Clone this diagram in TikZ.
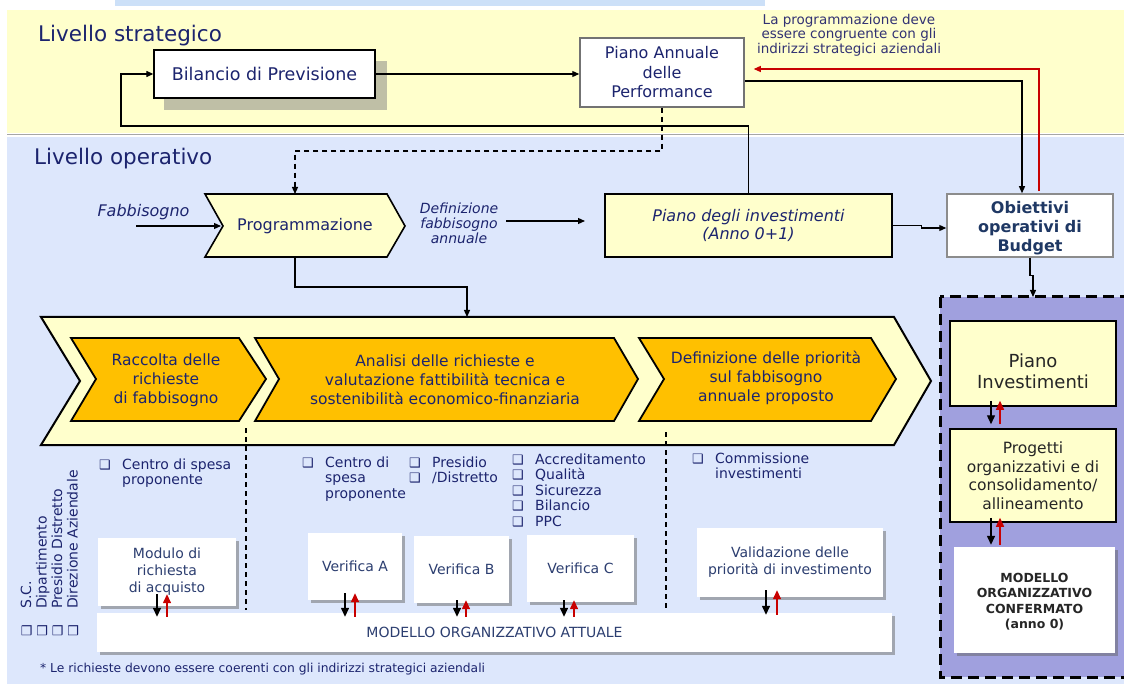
\documentclass[tikz,border=0pt]{standalone}
\usepackage{fontspec}
\setmainfont{DejaVu Sans}
\usetikzlibrary{arrows.meta,shadows,calc}
\definecolor{navy}{RGB}{28,36,110}
\definecolor{navyb}{RGB}{44,62,112}
\definecolor{bandY}{RGB}{255,255,204}
\definecolor{bandB}{RGB}{221,231,252}
\definecolor{topB}{RGB}{204,224,248}
\definecolor{lyel}{RGB}{255,255,204}
\definecolor{orng}{RGB}{255,192,0}
\definecolor{purp}{RGB}{160,160,222}
\definecolor{redA}{RGB}{200,0,0}
\definecolor{shad}{RGB}{191,191,166}
\definecolor{obj}{RGB}{31,56,100}
\definecolor{annot}{RGB}{50,50,115}
\newcommand\fs[2]{\fontsize{#1}{#2}\selectfont}
\newcommand\bq{\makebox[23pt][l]{\fs{13}{13}❑}}
\newcommand\bqv{\makebox[28pt][l]{\fs{13}{13}❑}}
\newcommand\pairs[6]{%
  \draw[barr] ($(#1.south)+(#3,-#5)$) -- ($(#1.south |- #2.north)+(#3,#6)$);
  \draw[rarr] ($(#1.south |- #2.north)+(#4,#6)$) -- ($(#1.south)+(#4,-#5)$);}
\tikzset{
  conn/.style={line width=1.2pt, -{Triangle[length=7pt,width=6pt]}},
  redconn/.style={line width=1.2pt, draw=redA, -{Triangle[length=7pt,width=6pt]}},
  barr/.style={line width=1.4pt, -{Triangle[length=9pt,width=8pt]}},
  rarr/.style={line width=1.4pt, draw=redA, fill=redA, -{Triangle[length=9pt,width=8pt]}},
  wbox/.style={fill=white, inner sep=0pt, align=center, text=navyb,
    drop shadow={shadow xshift=2.5pt, shadow yshift=-2.5pt, fill=black!60, opacity=0.5}},
  ybox/.style={fill=lyel, draw=black, line width=1.5pt, inner sep=0pt, align=center},
  chev/.style={draw=black, line join=miter},
  lbl/.style={text=navy, inner sep=0pt, align=center},
  lst/.style={text=navy, inner sep=0pt, anchor=base west, font=\fs{14}{15.5}},
  dsh/.style={line width=1.2pt, dash pattern=on 5pt off 4pt},
}
\begin{document}
\begin{tikzpicture}[x=1pt,y=-1pt]
\useasboundingbox (0,0) rectangle (1124,684);
\fill[white] (0,0) rectangle (1124,684);
\fill[topB] (115,0) rectangle (765,6);
\fill[bandY] (7,10) rectangle (1124,133);
\draw[black!35, line width=1.5pt] (7,134.5) -- (1124,134.5);
\fill[bandB] (7,137) rectangle (1124,684);

% level titles
\node[text=navy, anchor=base west, inner sep=0pt, font=\fs{21.5}{24}] (ls) at (38,42) {Livello strategico};
\node[text=navy, anchor=base west, inner sep=0pt, font=\fs{21.5}{24}] (lo) at (34,165) {Livello operativo};

% strategic boxes
\fill[shad] (164,61) rectangle (387,110);
\node[draw=black, line width=1.3pt, fill=white, minimum width=221pt, minimum height=48pt, inner sep=0pt, text=navy, font=\fs{17.5}{20}] (bil) at (264.5,74) {Bilancio di Previsione};
\node[draw=black!55, line width=1.5pt, fill=white, minimum width=164pt, minimum height=69pt, lbl, font=\fs{16}{19.5}] (pa) at (662,72.5) {Piano Annuale\\delle\\Performance};
\node[text=annot, align=center, inner sep=0pt, font=\fs{13.5}{14.5}] (ann) at (849,35) {La programmazione deve\\essere congruente con gli\\indirizzi strategici aziendali};

% Programmazione chevron
\draw[chev, fill=lyel, line width=1.6pt] (205,194) -- (387,194) -- (405,226) -- (387,257) -- (205,257) -- (223,226) -- cycle;
\node[lbl, font=\fs{16}{19}] (prog) at (305,226) {Programmazione};
\coordinate (progN) at (295,194);
\coordinate (progS) at (295,257);
\coordinate (progW) at (221,226);

\node[lbl, font=\itshape\fs{16}{19}] (fab) at (143.5,212) {Fabbisogno};
\coordinate (fabIn) at (136,226);
\node[lbl, font=\itshape\fs{14}{15}] (def) at (459,223) {Definizione\\fabbisogno\\annuale};
\coordinate (defEnd) at (585,221);

\node[ybox, line width=1.3pt, minimum width=287pt, minimum height=63pt, text=navy, font=\itshape\fs{16}{18}] (pi) at (748.5,225.5) {Piano degli investimenti\\(Anno 0+1)};
\node[draw=black!45, line width=1.5pt, fill=white, minimum width=166pt, minimum height=63pt, inner sep=0pt, align=center, text=obj, font=\bfseries\fs{16}{19}] (ob) at (1030,225.5) {\rule{0pt}{18pt}Obiettivi\\operativi di\\Budget};

% purple box
\draw[fill=purp, line width=3pt, dash pattern=on 11pt off 6pt] (940,297) rectangle (1140,677);
\coordinate (pbTop) at (1033,297);

% connectors upper part
\draw[conn] (bil.east) -- (bil.east -| pa.west);
\coordinate (loopA) at (121,126);
\draw[conn] (pi.north) |- (loopA) |- (bil.west);
\coordinate (bk) at (1022,81);
\draw[conn] (pa.east |- bk) -| ($(ob.north)+(-8,0)$);
\coordinate (rd) at (1039,69);
\draw[redconn] ($(ob.north)+(9,-2)$) |- ($(pa.east |- rd)+(9,0)$);
\coordinate (dshc) at (295,151);
\draw[conn, dash pattern=on 5pt off 4pt] (pa.south) |- (dshc) -- (progN);
\draw[conn] (fabIn) -- (progW);
\draw[conn] ($(def.east |- defEnd)+(8,0)$) -- (defEnd);
\draw[conn] (pi.east) -- ++(29,0) |- ($(ob.west)+(0,2.5)$);
\draw[conn] (ob.south) -- ++(0,18) -| (pbTop);
\coordinate (bigTop) at (467,317);
\draw[conn] (progS) |- ($(bigTop)+(0,-30)$) -- (bigTop);

% big chevron
\draw[chev, fill=lyel, line width=2pt] (41,317) -- (894,317) -- (931,381) -- (894,445) -- (41,445) -- (80,381) -- cycle;
\draw[chev, fill=orng, line width=1.8pt] (71,338) -- (239,338) -- (266,379) -- (239,421) -- (71,421) -- (96,379) -- cycle;
\draw[chev, fill=orng, line width=1.8pt] (255,338) -- (614,338) -- (638,379) -- (614,421) -- (255,421) -- (279,379) -- cycle;
\draw[chev, fill=orng, line width=1.8pt] (639,338) -- (871,338) -- (896,379) -- (871,421) -- (639,421) -- (664,379) -- cycle;
\node[lbl, font=\fs{15.5}{19}] (rac) at (166,380) {Raccolta delle\\richieste\\di fabbisogno};
\node[lbl, font=\fs{15.5}{19}] (ana) at (445,380) {Analisi delle richieste e\\valutazione fattibilità tecnica e\\sostenibilità economico-finanziaria};
\node[lbl, font=\fs{15.5}{19}] (dfp) at (766,378) {Definizione delle priorità\\sul fabbisogno\\annuale proposto};

% dashed separators
\draw[dsh] (246,428) -- (246,610);
\draw[dsh] (666,432) -- (666,610);

% lists
\node[lst] (l1) at (99,469) {\begin{tabular}[t]{@{}l@{}l@{}}\bq&Centro di spesa\\&proponente\end{tabular}};
\node[lst] (l2) at (302,467) {\begin{tabular}[t]{@{}l@{}l@{}}\bq&Centro di\\&spesa\\&proponente\end{tabular}};
\node[lst] (l3) at (409,467) {\begin{tabular}[t]{@{}l@{}l@{}}\bq&Presidio\\\bq&/Distretto\end{tabular}};
\node[lst] (l4) at (512,464) {\begin{tabular}[t]{@{}l@{}l@{}}\bq&Accreditamento\\\bq&Qualità\\\bq&Sicurezza\\\bq&Bilancio\\\bq&PPC\end{tabular}};
\node[lst] (l5) at (692,463) {\begin{tabular}[t]{@{}l@{}l@{}}\bq&Commissione\\&investimenti\end{tabular}};

\node[rotate=90, anchor=north west, inner sep=0pt, text=navy, font=\fs{14}{15.5}] (vl) at (20,637) {\begin{tabular}{@{}l@{}l@{}}\bqv&S.C.\\\bqv&Dipartimento\\\bqv&Presidio Distretto\\\bqv&Direzione Aziendale\end{tabular}};

% white boxes
\node[wbox, minimum width=138pt, minimum height=68pt, font=\fs{14}{17}] (mod) at (167,572) {Modulo di\\richiesta\\di acquisto};
\node[wbox, minimum width=94pt, minimum height=67pt, font=\fs{14}{17}] (va) at (355,566.5) {Verifica A};
\node[wbox, minimum width=95pt, minimum height=67pt, font=\fs{14}{17}] (vb) at (461.5,569.5) {Verifica B};
\node[wbox, minimum width=107pt, minimum height=67pt, font=\fs{14}{17}] (vc) at (580.5,568.5) {Verifica C};
\node[wbox, minimum width=186pt, minimum height=69pt, font=\fs{14}{17}] (val) at (790,562.5) {Validazione delle\\priorità di investimento};
\node[wbox, minimum width=795pt, minimum height=39pt, font=\fs{14}{17}] (ma) at (494.5,632.5) {MODELLO ORGANIZZATIVO ATTUALE};

% right column
\node[ybox, minimum width=166pt, minimum height=85pt, text=black!85, font=\fs{18}{21}] (pinv) at (1033,363.5) {\rule{0pt}{29pt}Piano\\Investimenti};
\node[ybox, minimum width=166pt, minimum height=93pt, text=black!85, font=\fs{15.5}{18.5}] (prg) at (1033,475.5) {Progetti\\organizzativi e di\\consolidamento/\\allineamento};
\node[wbox, minimum width=161pt, minimum height=106pt, text=black!85, font=\bfseries\fs{12.5}{15.5}] (mc) at (1034.5,600) {\rule{0pt}{13pt}MODELLO\\ORGANIZZATIVO\\CONFERMATO\\(anno 0)};

% up/down arrow pairs
\pairs{mod}{ma}{-10}{0}{12}{4}
\pairs{va}{ma}{-10}{0}{7}{4}
\pairs{vb}{ma}{-4.5}{4.5}{3}{4}
\pairs{vc}{ma}{-16.5}{-6.5}{2}{4}
\pairs{val}{ma}{-24}{-13}{7}{2}
\pairs{pinv}{prg}{-42}{-33}{6}{-4}
\pairs{prg}{mc}{-42}{-33}{5}{-2}

\node[anchor=base west, inner sep=0pt, text=navy, font=\fs{12.3}{14}] (fn) at (40,672) {* Le richieste devono essere coerenti con gli indirizzi strategici aziendali};
\end{tikzpicture}
\end{document}
